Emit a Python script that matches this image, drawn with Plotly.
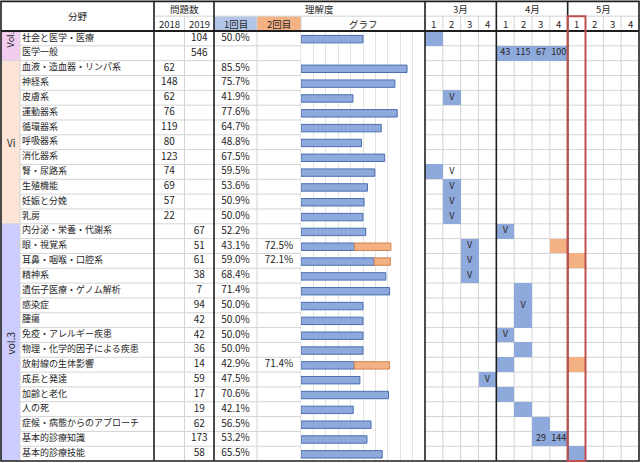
import numpy as np
import plotly.graph_objects as go

# ---- table data ----
names = ["社会と医学・医療", "医学一般", "血液・造血器・リンパ系", "神経系", "皮膚系", "運動器系",
         "循環器系", "呼吸器系", "消化器系", "腎・尿路系", "生殖機能", "妊娠と分娩", "乳房",
         "内分泌・栄養・代謝系", "眼・視覚系", "耳鼻・咽喉・口腔系", "精神系", "遺伝子医療・ゲノム解析",
         "感染症", "腫瘍", "免疫・アレルギー疾患", "物理・化学的因子による疾患", "放射線の生体影響",
         "成長と発達", "加齢と老化", "人の死", "症候・病態からのアプローチ", "基本的診療知識", "基本的診療技能"]
q2018 = [None, None, 62, 148, 62, 76, 119, 80, 123, 74, 69, 57, 22,
         None, None, None, None, None, None, None, None, None, None, None, None, None, None, None, None]
q2019 = [104, 546, None, None, None, None, None, None, None, None, None, None, None,
         67, 51, 61, 38, 7, 94, 42, 42, 36, 14, 59, 17, 19, 62, 173, 58]
first = [50.0, None, 85.5, 75.7, 41.9, 77.6, 64.7, 48.8, 67.5, 59.5, 53.6, 50.9, 50.0,
         52.2, 43.1, 59.0, 68.4, 71.4, 50.0, 50.0, 50.0, 50.0, 42.9, 47.5, 70.6, 42.1, 56.5, 53.2, 65.5]
second = [None, None, None, None, None, None, None, None, None, None, None, None, None,
          None, 72.5, 72.1, None, None, None, None, None, None, 71.4, None, None, None, None, None, None]

vol_labels = ["Vol.", "Vi", "vol.3"]
vol_start = [0, 2, 13]
vol_end = [2, 13, 29]
vol_colors = ["#f2cdf0", "#fce4d6", "#ccccff"]

months = ["3月", "4月", "5月"]
weeks = ["1", "2", "3", "4"]

# schedule cells: row, week index (0 = 3月 1週), kind (B=1回目, O=2回目), text
cell_row = [0, 1, 1, 1, 1, 4, 9, 9, 10, 11, 12, 13, 14, 14, 15, 15, 16, 17, 18, 19,
            20, 21, 22, 22, 23, 24, 25, 26, 27, 27, 28]
cell_week = [0, 4, 5, 6, 7, 1, 0, 1, 1, 1, 1, 4, 2, 7, 2, 8, 2, 5, 5, 5,
             4, 5, 4, 8, 3, 4, 5, 6, 6, 7, 8]
cell_kind = ["B", "B", "B", "B", "B", "B", "B", "", "B", "B", "B", "B", "B", "O", "B", "O", "B", "B", "B", "B",
             "B", "B", "B", "O", "B", "B", "B", "B", "B", "B", "B"]
cell_text = ["", "43", "115", "67", "100", "V", "", "V", "V", "V", "V", "V", "V", "", "V", "", "V", "", "V", "",
             "V", "", "", "", "V", "", "", "", "29", "144", ""]

# ---- layout geometry (pixel columns, row units) ----
W, H = 640, 463
X_L, X_NAME, X_18, X_19, X_P1, X_P2, X_G, X_S, X_R = 1, 20, 154, 184.5, 214, 257, 301, 425, 639
week_edges = X_S + np.arange(13) * (X_R - X_S) / 12
NROW = len(names)
Y_TOP, Y_BOT = -2.09, 29.13

BLUE, ORANGE = "#8ea9db", "#f4b183"
GRID, DARK = "#d4d4d4", "#1e1e1e"
TXT = "#262626"
FONT = "Noto Sans CJK JP"

fig = go.Figure()

# schedule heatmap
z = np.full((NROW, 12), np.nan)
for r, w, k in zip(cell_row, cell_week, cell_kind):
    if k:
        z[r, w] = 1 if k == "B" else 2
fig.add_trace(go.Heatmap(z=z, x=week_edges, y=np.arange(NROW + 1), zmin=1, zmax=2,
                         colorscale=[[0, BLUE], [0.5, BLUE], [0.5, ORANGE], [1, ORANGE]],
                         showscale=False, hoverinfo="skip"))

rows = np.arange(NROW)
yc = rows + 0.5


def txt(x, y, t, pos="middle center", size=10):
    fig.add_trace(go.Scatter(x=x, y=y, text=t, mode="text", textposition=pos,
                             textfont=dict(family=FONT, size=size, color=TXT),
                             hoverinfo="skip", showlegend=False))


txt([X_NAME + 2] * NROW, yc, names, "middle right", 9)
txt([(X_18 + X_19) / 2] * NROW, yc, ["" if v is None else str(v) for v in q2018])
txt([(X_19 + X_P1) / 2] * NROW, yc, ["" if v is None else str(v) for v in q2019])
txt([(X_P1 + X_P2) / 2] * NROW, yc, ["" if v is None else f"{v:.1f}%" for v in first])
txt([(X_P2 + X_G) / 2] * NROW, yc, ["" if v is None else f"{v:.1f}%" for v in second])
wc = (week_edges[:-1] + week_edges[1:]) / 2
txt([wc[w] for w in cell_week], [r + 0.5 for r in cell_row], cell_text, "middle center", 9)

# 理解度 bars
ybar = rows + 0.55
fig.add_trace(go.Bar(x=first, y=ybar, orientation="h", width=0.5, xaxis="x2", yaxis="y2",
                     marker=dict(color=BLUE, line=dict(color="#4a6fae", width=1)), hoverinfo="skip"))
base2 = [f if s is not None else None for f, s in zip(first, second)]
len2 = [s - f if s is not None else None for f, s in zip(first, second)]
fig.add_trace(go.Bar(x=len2, y=ybar, base=base2, orientation="h", width=0.5, xaxis="x2", yaxis="y2",
                     marker=dict(color=ORANGE, line=dict(color="#d0844f", width=1)), hoverinfo="skip"))

shapes = []


def line(x0, y0, x1, y1, color=GRID, width=1, layer="between"):
    shapes.append(dict(type="line", x0=x0, y0=y0, x1=x1, y1=y1, xref="x", yref="y",
                       line=dict(color=color, width=width), layer=layer))


def rect(x0, y0, x1, y1, fill, layer="between"):
    shapes.append(dict(type="rect", x0=x0, y0=y0, x1=x1, y1=y1, xref="x", yref="y",
                       fillcolor=fill, line=dict(width=0), layer=layer))


# fills
for s, e, c in zip(vol_start, vol_end, vol_colors):
    rect(X_L, s, X_NAME, e, c)
rect(X_P1, -1, X_P2, 0, "#b4c6e7")
rect(X_P2, -1, X_G, 0, ORANGE)

# thin grid
for r in range(1, NROW):
    line(X_NAME, r, X_R, r)
for s in vol_start[1:]:
    line(X_L, s, X_NAME, s)
line(X_18, -1, X_R, -1)
line(X_NAME, 0, X_NAME, NROW)
for x in [X_19, X_P2, X_G] + [week_edges[i] for i in range(1, 12) if i % 4]:
    line(x, -1, x, NROW)

# thick borders
for x in [X_18, X_P1, X_S, week_edges[4], week_edges[8]]:
    line(x, -2, x, NROW, DARK, 1.6, "above")
line(X_L, 0, X_R, 0, DARK, 2, "above")
shapes.append(dict(type="rect", x0=X_L, y0=-2, x1=X_R, y1=NROW, xref="x", yref="y",
                   line=dict(color=DARK, width=1.6), layer="above"))
shapes.append(dict(type="rect", x0=week_edges[8], y0=-1, x1=week_edges[9], y1=NROW, xref="x", yref="y",
                   line=dict(color="#c0504d", width=2), layer="above"))

# header text
ann = []


def head(x, y, t, size=9.5, angle=0):
    ann.append(dict(x=x, y=y, xref="x", yref="y", text=t, showarrow=False, textangle=angle,
                    font=dict(family=FONT, size=size, color=TXT)))


head((X_L + X_18) / 2, -1, "分野")
head((X_18 + X_P1) / 2, -1.5, "問題数")
head((X_18 + X_19) / 2, -0.5, "2018")
head((X_19 + X_P1) / 2, -0.5, "2019")
head((X_P1 + X_S) / 2, -1.5, "理解度")
head((X_P1 + X_P2) / 2, -0.5, "1回目")
head((X_P2 + X_G) / 2, -0.5, "2回目")
head((X_G + X_S) / 2, -0.5, "グラフ")
for m, name in enumerate(months):
    head((week_edges[4 * m] + week_edges[4 * m + 4]) / 2, -1.5, name)
    for k, wk in enumerate(weeks):
        head(wc[4 * m + k], -0.5, wk, 9.5)
head((X_L + X_NAME) / 2, 0.6, "Vol.", 9, -90)
head((X_L + X_NAME) / 2 + 1, 7.5, "Vi", 10)
head((X_L + X_NAME) / 2, 21.1, "vol.3", 10, -90)

fig.update_layout(
    width=W, height=H, margin=dict(l=0, r=0, t=0, b=0),
    paper_bgcolor="white", plot_bgcolor="white", showlegend=False, barmode="overlay",
    font=dict(family=FONT),
    xaxis=dict(range=[0, W], visible=False, domain=[0, 1]),
    yaxis=dict(range=[Y_BOT, Y_TOP], visible=False, domain=[0, 1]),
    xaxis2=dict(domain=[X_G / W, X_S / W], range=[0, 100], anchor="y2", showgrid=True, dtick=10,
                gridcolor="#e3e3e3", gridwidth=1, showticklabels=False, zeroline=False, ticks=""),
    yaxis2=dict(domain=[1 - 461 / H, 1 - 31 / H], range=[NROW, 0], anchor="x2", visible=False),
    shapes=shapes, annotations=ann,
)

fig.write_html("out.html", config={"displayModeBar": False},
               post_script="document.body.style.margin='0';document.body.style.overflow='hidden';")
